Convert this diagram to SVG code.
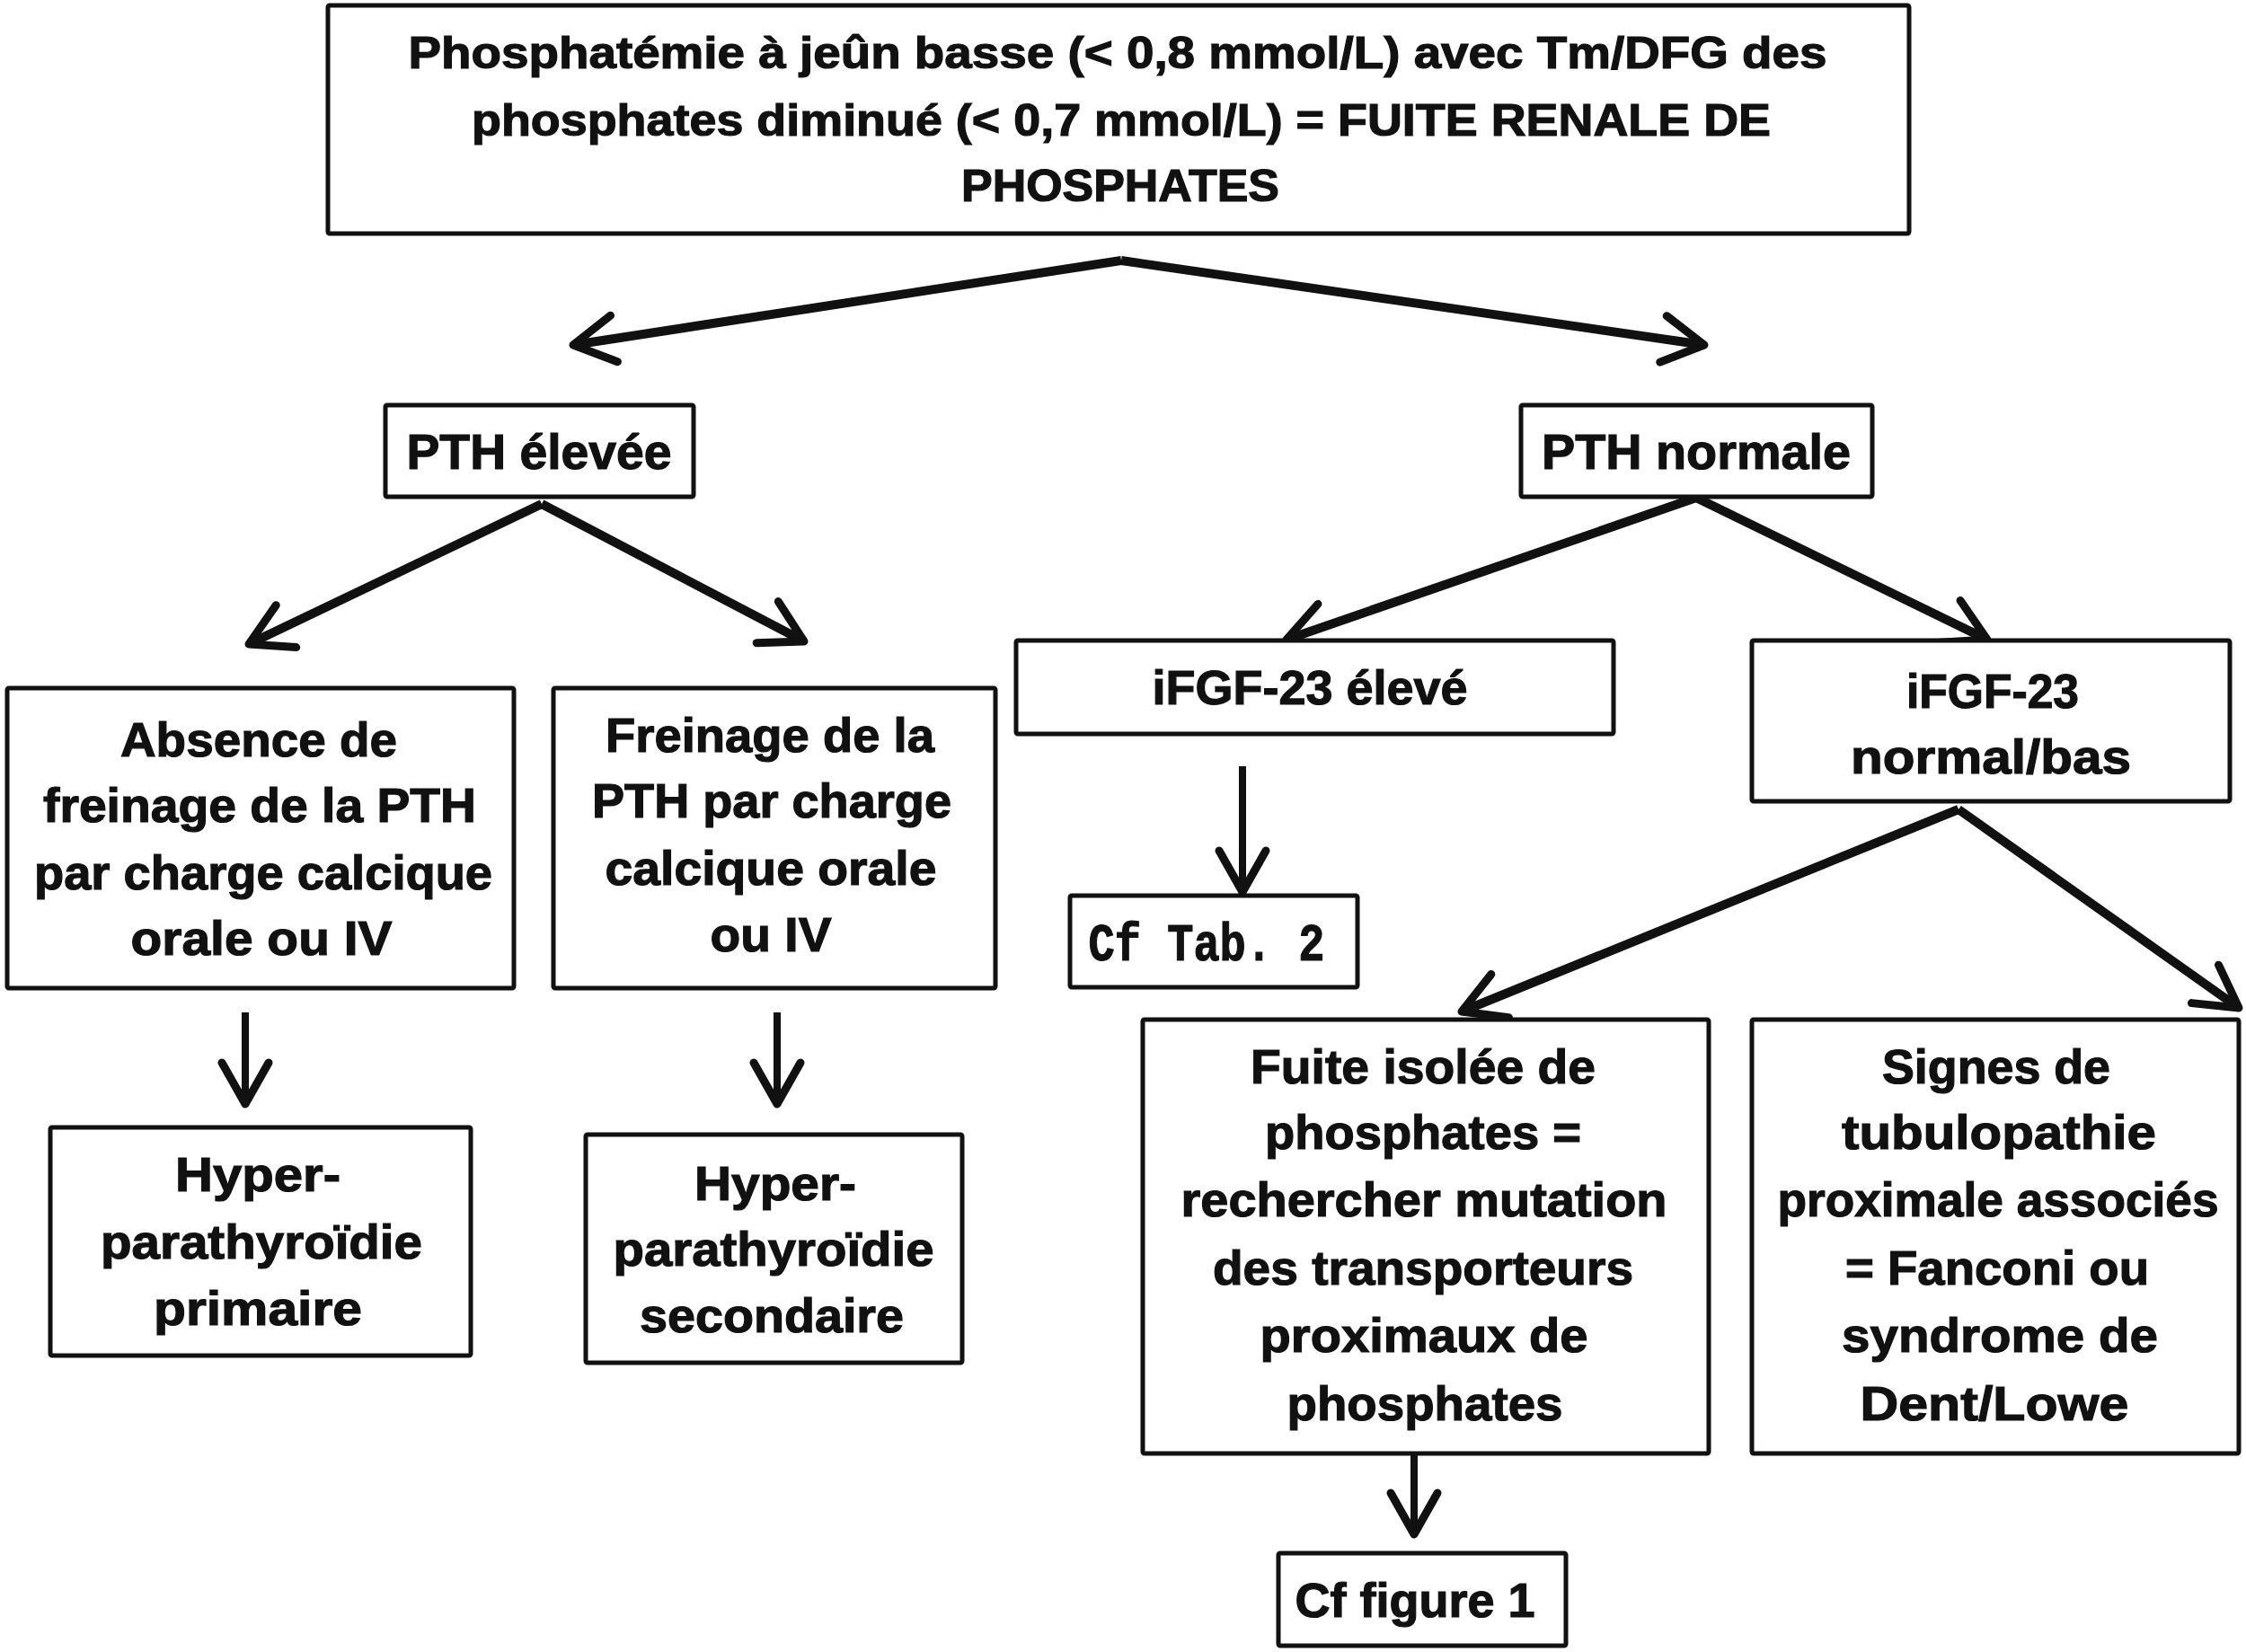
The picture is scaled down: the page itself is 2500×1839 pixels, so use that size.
<svg xmlns="http://www.w3.org/2000/svg" width="2500" height="1839" viewBox="0 0 2500 1839">
<style>
.box{fill:#fff;stroke:#111;stroke-width:5;}
.t{font-family:"Liberation Sans",Arial,sans-serif;font-weight:bold;font-size:54px;fill:#111;stroke:#111;stroke-width:1.2;text-anchor:middle;}
.top{font-size:50px;}
.big{font-size:56px;}
.mono{font-family:"Liberation Mono","Courier New",monospace;font-size:60px;}
.arr{fill:none;stroke:#111;stroke-width:10;marker-end:url(#head);}
.v{stroke-width:8;}
</style>
<defs>
<marker id="head" markerUnits="userSpaceOnUse" viewBox="-60 -40 70 80" refX="0" refY="0" markerWidth="70" markerHeight="80" orient="auto" overflow="visible">
<path d="M-46,-26 L0,0 L-46,26" fill="none" stroke="#111" stroke-width="9" stroke-linecap="round" stroke-linejoin="round"/>
</marker>
</defs>
<rect width="2500" height="1839" fill="#fff"/>
<g id="connectors">
<path class="arr" d="M1248,290 L638,384"/>
<path class="arr" d="M1248,290 L1897,384"/>
<path class="arr" d="M603,561 L277,717"/>
<path class="arr" d="M603,561 L895,714"/>
<path class="arr" d="M1888,554 L1432,712"/>
<path class="arr" d="M1888,554 L2212,712"/>
<path class="arr v" d="M273,1127 L273,1229"/>
<path class="arr v" d="M865,1127 L865,1229"/>
<path class="arr v" d="M1383,853 L1383,993"/>
<path class="arr" d="M2180,901 L1627,1126"/>
<path class="arr" d="M2180,901 L2492,1122"/>
<path class="arr v" d="M1574,1618 L1574,1708"/>
</g>
<g id="n-top">
<rect class="box" x="365" y="6" width="1760" height="254" rx="2"/>
<text class="t top" x="1244" y="76" textLength="1579" lengthAdjust="spacingAndGlyphs">Phosphatémie à jeûn basse (&lt; 0,8 mmol/L) avec Tm/DFG des</text>
<text class="t top" x="1248" y="151" textLength="1446" lengthAdjust="spacingAndGlyphs">phosphates diminué (&lt; 0,7 mmol/L) = FUITE RENALE DE</text>
<text class="t top" x="1247" y="224" textLength="354" lengthAdjust="spacingAndGlyphs">PHOSPHATES</text>
</g>
<g id="n-pth-elevee">
<rect class="box" x="429" y="451" width="343" height="102" rx="2"/>
<text class="t big" x="600" y="522" textLength="295" lengthAdjust="spacingAndGlyphs">PTH élevée</text>
</g>
<g id="n-pth-normale">
<rect class="box" x="1693" y="451" width="391" height="102" rx="2"/>
<text class="t big" x="1888" y="522" textLength="344" lengthAdjust="spacingAndGlyphs">PTH normale</text>
</g>
<g id="n-absence">
<rect class="box" x="8" y="766" width="564" height="334" rx="2"/>
<text class="t" x="288" y="842" textLength="308" lengthAdjust="spacingAndGlyphs">Absence de</text>
<text class="t" x="289" y="915" textLength="482" lengthAdjust="spacingAndGlyphs">freinage de la PTH</text>
<text class="t" x="293" y="990" textLength="510" lengthAdjust="spacingAndGlyphs">par charge calcique</text>
<text class="t" x="291" y="1063" textLength="291" lengthAdjust="spacingAndGlyphs">orale ou IV</text>
</g>
<g id="n-freinage">
<rect class="box" x="616" y="766" width="492" height="334" rx="2"/>
<text class="t" x="857" y="837" textLength="366" lengthAdjust="spacingAndGlyphs">Freinage de la</text>
<text class="t" x="859" y="910" textLength="400" lengthAdjust="spacingAndGlyphs">PTH par charge</text>
<text class="t" x="858" y="985" textLength="369" lengthAdjust="spacingAndGlyphs">calcique orale</text>
<text class="t" x="858" y="1059" textLength="135" lengthAdjust="spacingAndGlyphs">ou IV</text>
</g>
<g id="n-hpt-primaire">
<rect class="box" x="56" y="1255" width="468" height="254" rx="2"/>
<text class="t" x="287" y="1326" textLength="184" lengthAdjust="spacingAndGlyphs">Hyper-</text>
<text class="t" x="291" y="1401" textLength="358" lengthAdjust="spacingAndGlyphs">parathyroïdie</text>
<text class="t" x="287" y="1475" textLength="232" lengthAdjust="spacingAndGlyphs">primaire</text>
</g>
<g id="n-hpt-secondaire">
<rect class="box" x="652" y="1263" width="419" height="254" rx="2"/>
<text class="t" x="863" y="1336" textLength="180" lengthAdjust="spacingAndGlyphs">Hyper-</text>
<text class="t" x="861" y="1409" textLength="357" lengthAdjust="spacingAndGlyphs">parathyroïdie</text>
<text class="t" x="859" y="1483" textLength="294" lengthAdjust="spacingAndGlyphs">secondaire</text>
</g>
<g id="n-fgf-eleve">
<rect class="box" x="1131" y="713" width="665" height="104" rx="2"/>
<text class="t" x="1458" y="784" textLength="351" lengthAdjust="spacingAndGlyphs">iFGF-23 élevé</text>
</g>
<g id="n-fgf-normal">
<rect class="box" x="1950" y="713" width="532" height="179" rx="2"/>
<text class="t" x="2218" y="788" textLength="192" lengthAdjust="spacingAndGlyphs">iFGF-23</text>
<text class="t" x="2216" y="861" textLength="312" lengthAdjust="spacingAndGlyphs">normal/bas</text>
</g>
<g id="n-cf-tab2">
<rect class="box" x="1191" y="997" width="320" height="102" rx="2"/>
<text class="t mono" x="1343" y="1069" textLength="263" lengthAdjust="spacingAndGlyphs">Cf Tab. 2</text>
</g>
<g id="n-fuite">
<rect class="box" x="1272" y="1135" width="630" height="483" rx="2"/>
<text class="t" x="1584" y="1206" textLength="384" lengthAdjust="spacingAndGlyphs">Fuite isolée de</text>
<text class="t" x="1584" y="1279" textLength="352" lengthAdjust="spacingAndGlyphs">phosphates =</text>
<text class="t" x="1585" y="1354" textLength="541" lengthAdjust="spacingAndGlyphs">rechercher mutation</text>
<text class="t" x="1584" y="1430" textLength="468" lengthAdjust="spacingAndGlyphs">des transporteurs</text>
<text class="t" x="1585" y="1505" textLength="365" lengthAdjust="spacingAndGlyphs">proximaux de</text>
<text class="t" x="1586" y="1581" textLength="307" lengthAdjust="spacingAndGlyphs">phosphates</text>
</g>
<g id="n-signes">
<rect class="box" x="1950" y="1135" width="542" height="483" rx="2"/>
<text class="t" x="2222" y="1206" textLength="254" lengthAdjust="spacingAndGlyphs">Signes de</text>
<text class="t" x="2225" y="1279" textLength="350" lengthAdjust="spacingAndGlyphs">tubulopathie</text>
<text class="t" x="2224" y="1354" textLength="491" lengthAdjust="spacingAndGlyphs">proximale associés</text>
<text class="t" x="2223" y="1430" textLength="338" lengthAdjust="spacingAndGlyphs">= Fanconi ou</text>
<text class="t" x="2226" y="1505" textLength="352" lengthAdjust="spacingAndGlyphs">syndrome de</text>
<text class="t" x="2220" y="1581" textLength="299" lengthAdjust="spacingAndGlyphs">Dent/Lowe</text>
</g>
<g id="n-cf-fig1">
<rect class="box" x="1423" y="1729" width="320" height="103" rx="2"/>
<text class="t" x="1575" y="1800" textLength="267" lengthAdjust="spacingAndGlyphs">Cf figure 1</text>
</g>
</svg>
